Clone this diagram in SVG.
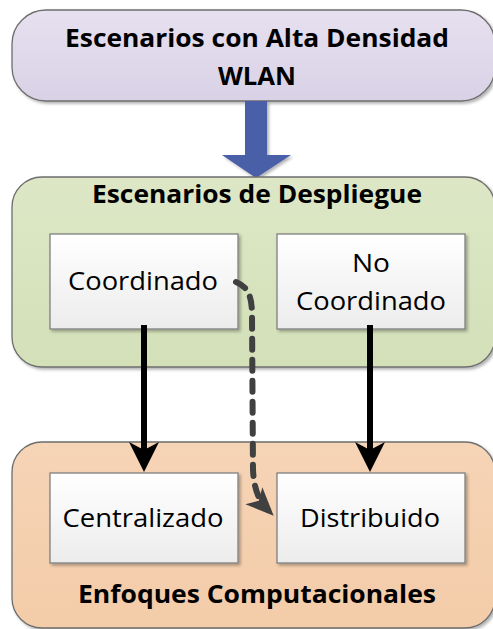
<svg xmlns="http://www.w3.org/2000/svg" width="493" height="629" viewBox="0 0 493 629">
<defs>
<linearGradient id="gTop" x1="0" y1="0" x2="0" y2="1"><stop offset="0" stop-color="#e6e0f0"/><stop offset="1" stop-color="#d9d2e6"/></linearGradient>
<linearGradient id="gGreen" x1="0" y1="0" x2="0" y2="1"><stop offset="0" stop-color="#dde7c6"/><stop offset="1" stop-color="#d3e0b8"/></linearGradient>
<linearGradient id="gOrange" x1="0" y1="0" x2="0" y2="1"><stop offset="0" stop-color="#f6d4b6"/><stop offset="1" stop-color="#f3cca9"/></linearGradient>
<linearGradient id="gWhite" x1="0" y1="0" x2="0" y2="1"><stop offset="0" stop-color="#ffffff"/><stop offset="1" stop-color="#ececec"/></linearGradient>
<filter id="sh" x="-10%" y="-10%" width="130%" height="130%"><feDropShadow dx="2" dy="2" stdDeviation="1.5" flood-color="#000" flood-opacity="0.3"/></filter>
<marker id="mBlack" markerUnits="userSpaceOnUse" markerWidth="31" markerHeight="32" refX="20" refY="15" orient="auto" viewBox="0 0 31 30">
<path d="M0,0 L30,15 L0,30 L8,15 Z" fill="#000"/>
</marker>
<marker id="mDash" markerUnits="userSpaceOnUse" markerWidth="30" markerHeight="26" refX="20" refY="12" orient="auto" viewBox="0 0 30 24">
<path d="M0,0 L28,12 L0,24 L7,12 Z" fill="#404040"/>
</marker>
</defs>
<style>
.big{stroke:#6e6e6e;stroke-width:1.3}
.node{fill:url(#gWhite);stroke:#808080;stroke-width:1.3}
.hd{font-family:"Open Sans","Liberation Sans",Arial,sans-serif;font-weight:bold;font-size:25px;fill:#000;text-anchor:middle}
.tx{font-family:"Open Sans","Liberation Sans",Arial,sans-serif;font-size:26px;fill:#000;text-anchor:middle}
.solid{stroke:#000;stroke-width:6;fill:none}
.dash{stroke:#404040;stroke-width:6;fill:none;stroke-linecap:round;stroke-dasharray:11 10}
</style>
<g id="top">
<rect x="12" y="10" width="483" height="91" rx="34" fill="url(#gTop)" class="big" filter="url(#sh)"/>
<text class="hd" x="257" y="47" textLength="384" lengthAdjust="spacingAndGlyphs">Escenarios con Alta Densidad</text>
<text class="hd" x="257" y="85" textLength="78" lengthAdjust="spacingAndGlyphs">WLAN</text>
</g>
<g id="bigArrow">
<path d="M245,101 L267,101 L267,155 L291,155 L256,178 L222,155 L245,155 Z" fill="#4a5ea8" filter="url(#sh)"/>
</g>
<g id="despliegue">
<rect x="12" y="177" width="483" height="190" rx="30" fill="url(#gGreen)" class="big" filter="url(#sh)"/>
<text class="hd" x="257" y="203" textLength="330" lengthAdjust="spacingAndGlyphs">Escenarios de Despliegue</text>
</g>
<g id="enfoques">
<rect x="12" y="442" width="483" height="186" rx="30" fill="url(#gOrange)" class="big" filter="url(#sh)"/>
<text class="hd" x="257" y="603" textLength="358" lengthAdjust="spacingAndGlyphs">Enfoques Computacionales</text>
</g>
<g id="coordinado">
<rect x="50" y="234" width="188" height="95" class="node" filter="url(#sh)"/>
<text class="tx" x="143" y="290" textLength="150" lengthAdjust="spacingAndGlyphs">Coordinado</text>
</g>
<g id="noCoordinado">
<rect x="277" y="234" width="188" height="95" class="node" filter="url(#sh)"/>
<text class="tx" x="371" y="272" textLength="38" lengthAdjust="spacingAndGlyphs">No</text>
<text class="tx" x="371" y="310" textLength="150" lengthAdjust="spacingAndGlyphs">Coordinado</text>
</g>
<g id="centralizado">
<rect x="50" y="473" width="188" height="90" class="node" filter="url(#sh)"/>
<text class="tx" x="143" y="527" textLength="161" lengthAdjust="spacingAndGlyphs">Centralizado</text>
</g>
<g id="distribuido">
<rect x="277" y="473" width="188" height="90" class="node" filter="url(#sh)"/>
<text class="tx" x="370" y="527" textLength="140" lengthAdjust="spacingAndGlyphs">Distribuido</text>
</g>
<g id="connectors">
<path d="M144,325 L144,462" class="solid" marker-end="url(#mBlack)"/>
<path d="M370,325 L370,462" class="solid" marker-end="url(#mBlack)"/>
<path d="M236,282 C248,287 252,296 252,315 L253,470 C254,488 258,500 268,510" class="dash" marker-end="url(#mDash)"/>
</g>
</svg>
